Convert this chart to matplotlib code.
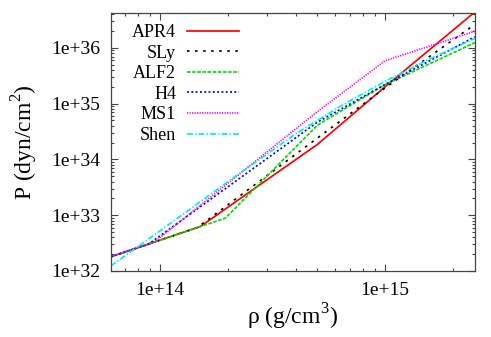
import math
import matplotlib
matplotlib.use('Agg')
import matplotlib.pyplot as plt
from matplotlib.ticker import LogLocator, FuncFormatter, NullFormatter

plt.rcParams['font.family'] = ['Liberation Serif', 'DejaVu Serif']
plt.rcParams['mathtext.fontset'] = 'custom'
plt.rcParams['mathtext.rm'] = 'Liberation Serif'
plt.rcParams['lines.scale_dashes'] = False

# density (g/cm^3) and pressure (dyn/cm^2)
labels = ['APR4', 'SLy', 'ALF2', 'H4', 'MS1', 'Shen']

rho_apr4 = [6.04e13, 1.51e14, 5.01e14, 1.0e15, 2.51e15]
p_apr4 = [1.8e32, 6.27e32, 1.86e34, 2.0e35, 4.4e36]

rho_sly = [6.04e13, 1.46e14, 5.01e14, 1.0e15, 2.51e15]
p_sly = [1.8e32, 5.97e32, 2.42e34, 1.91e35, 2.63e36]

rho_alf2 = [6.04e13, 1.95e14, 5.01e14, 1.0e15, 2.51e15]
p_alf2 = [1.8e32, 8.85e32, 4.13e34, 2.19e35, 1.24e36]

rho_h4 = [6.04e13, 8.87e13, 5.01e14, 1.0e15, 2.51e15]
p_h4 = [1.8e32, 3.02e32, 4.67e34, 2.2e35, 1.58e36]

rho_ms1 = [6.04e13, 9.42e13, 5.01e14, 1.0e15, 2.51e15]
p_ms1 = [1.8e32, 3.29e32, 7.21e34, 5.86e35, 1.99e36]

rho_shen = [6.03e13, 1.0e14, 2.0e14, 3.98e14, 6.31e14, 1.0e15, 1.58e15, 2.51e15]
p_shen = [1.23e32, 5.25e32, 3.98e33, 2.82e34, 8.91e34, 2.51e35, 6.31e35, 1.48e36]

series = [
    (rho_apr4, p_apr4, '#ff0000', '-'),
    (rho_sly, p_sly, '#000000', (0, (1.8, 4.0))),
    (rho_alf2, p_alf2, '#00dd00', (0, (2.6, 1.1))),
    (rho_h4, p_h4, '#0000ff', (0, (1.4, 1.7))),
    (rho_ms1, p_ms1, '#ff00ff', (0, (0.9, 0.9))),
    (rho_shen, p_shen, '#00eeee', (0, (4.3, 1.5, 1.0, 1.5))),
]

fig = plt.figure(figsize=(4.91, 3.37), dpi=100)
ax = fig.add_axes([0.226, 0.196, 0.741, 0.765])

for (x, y, c, ls), lab in zip(series, labels):
    ax.plot(x, y, color=c, lw=1.25, linestyle=ls, label=lab)

ax.set_xscale('log')
ax.set_yscale('log')
ax.set_xlim(6.04e13, 2.51e15)
ax.set_ylim(1e32, 4.2e36)

fmt = FuncFormatter(lambda v, pos: '1e+%d' % round(math.log10(v)))
ax.xaxis.set_major_locator(LogLocator(base=10))
ax.yaxis.set_major_locator(LogLocator(base=10))
ax.xaxis.set_minor_locator(LogLocator(base=10, subs=range(2, 10)))
ax.yaxis.set_minor_locator(LogLocator(base=10, subs=range(2, 10)))
ax.xaxis.set_major_formatter(fmt)
ax.yaxis.set_major_formatter(fmt)
ax.xaxis.set_minor_formatter(NullFormatter())
ax.yaxis.set_minor_formatter(NullFormatter())

ax.tick_params(which='both', direction='in', top=True, right=True,
               labelsize=14, width=0.8, color='#444444')
ax.tick_params(which='major', length=5, pad=8)
ax.tick_params(which='minor', length=2.5)
for s in ax.spines.values():
    s.set_color('#444444')
    s.set_linewidth(0.9)

ax.set_xlabel(r'$\mathrm{\rho}$ (g/cm$^3$)', fontsize=17, labelpad=2)
ax.set_ylabel(r'P (dyn/cm$^2$)', fontsize=17, labelpad=8)

ax.legend(loc='upper left', bbox_to_anchor=(0.058, 0.958), frameon=False,
          markerfirst=False, fontsize=13, handlelength=2.9,
          handletextpad=0.6, labelspacing=0.2, borderpad=0,
          borderaxespad=0)

fig.savefig('out.png', dpi=100)
